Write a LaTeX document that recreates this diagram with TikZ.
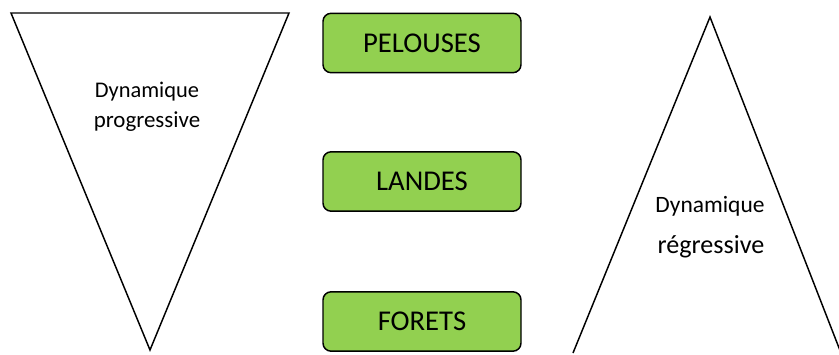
\documentclass[tikz,border=0pt]{standalone}
\usepackage{fontspec}
\setmainfont{Carlito}
\definecolor{boxgreen}{HTML}{92D050}
\begin{document}
\begin{tikzpicture}[x=0.75pt,y=-0.75pt,
  tri/.style={draw=black,line width=1.1pt,line join=miter},
  greenbox/.style={draw=black,fill=boxgreen,line width=1.1pt,rounded corners=6pt,
    minimum width=148.5pt,minimum height=44.5pt,inner sep=0pt,font=\fontsize{21.5pt}{24pt}\selectfont},
  lbl/.style={anchor=base,inner sep=0pt}]
\useasboundingbox (0,0) rectangle (839,354);
% left triangle
\coordinate (l1) at (11,13);
\coordinate (l2) at (289,13);
\coordinate (l3) at (150,350);
\draw[tri] (l1) -- (l2) -- (l3) -- cycle;
% right triangle
\coordinate (r1) at (710,17);
\coordinate (r2) at (573,353);
\coordinate (r3) at (841,353);
\draw[tri] (r2) -- (r1) -- (r3);
% boxes
\node[greenbox] (pel) at (422,43) {\raisebox{-1.5pt}{PELOUSES}};
\node[greenbox] (lan) at (422,181.5) {\raisebox{-1.5pt}{LANDES}};
\node[greenbox] (for) at (422,321.5) {\raisebox{-1.5pt}{FORETS}};
% labels
\node[lbl,font=\fontsize{16.8pt}{20pt}\selectfont] (dp1) at (147,97) {Dynamique};
\node[lbl,font=\fontsize{17.2pt}{20pt}\selectfont] (dp2) at (147,127) {progressive};
\node[lbl,font=\fontsize{17.6pt}{20pt}\selectfont] (dr1) at (710,212) {Dynamique};
\node[lbl,font=\fontsize{19.6pt}{22pt}\selectfont] (dr2) at (711,253) {régressive};
\end{tikzpicture}
\end{document}
